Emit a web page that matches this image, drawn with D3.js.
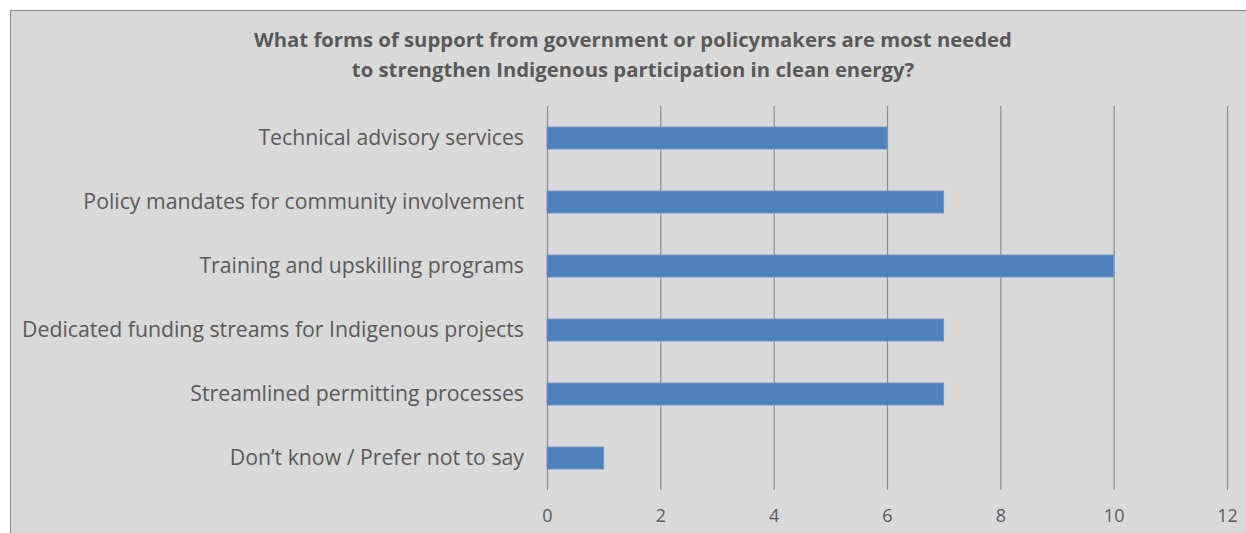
<!DOCTYPE html>
<meta charset="utf-8">
<head>
  <style>
    body { margin: 0; background: #ffffff; }
    text { font-family: "Open Sans", sans-serif; fill: #595959; }
    .title { font-weight: bold; }
  </style>
  <script src="https://cdn.jsdelivr.net/npm/d3@7"></script>
</head>
<body>
  <div id="viz"></div>
</body>
<script>
var categories = [
  "Technical advisory services",
  "Policy mandates for community involvement",
  "Training and upskilling programs",
  "Dedicated funding streams for Indigenous projects",
  "Streamlined permitting processes",
  "Don\u2019t know / Prefer not to say"
];
var values = [6, 7, 10, 7, 7, 1];
var xTicks = [0, 2, 4, 6, 8, 10, 12];
var titleLines = [
  "What forms of support from government or policymakers are most needed",
  "to strengthen Indigenous participation in clean energy?"
];

var W = 1246, H = 533;
var plotLeft = 547, plotRight = 1227, plotTop = 106, plotBottom = 490;

var svg = d3.select("#viz")
  .append("svg")
    .attr("width", W)
    .attr("height", H);

// chart area background with border
svg.append("rect")
  .attr("x", 10.5)
  .attr("y", 10.5)
  .attr("width", W)
  .attr("height", H)
  .attr("fill", "#d9d9d9")
  .attr("stroke", "#8c8c8c")
  .attr("stroke-width", 1);

var x = d3.scaleLinear()
  .domain([0, 12])
  .range([plotLeft, plotRight]);

var y = d3.scaleBand()
  .domain(categories)
  .range([plotTop, plotBottom])
  .paddingInner(0.656)
  .paddingOuter(0.328);

/* fit a font size so a text spans the given width (reference is Calibri) */
function fitSize(str, target, weight) {
  var t = svg.append("text")
    .style("font-size", "20px")
    .style("font-weight", weight || "normal")
    .text(str);
  var w = t.node().getComputedTextLength();
  t.remove();
  return 20 * target / w;
}
var labelSize = fitSize(categories[3], 502);
var titleSize = fitSize(titleLines[0], 758, "bold");
var tickSize = 18;

/* gridlines + tick labels */
var xAxis = svg.append("g")
  .attr("transform", "translate(0," + plotBottom + ")")
  .call(d3.axisBottom(x)
    .tickValues(xTicks)
    .tickSizeInner(-(plotBottom - plotTop))
    .tickSizeOuter(0)
    .tickPadding(19)
    .tickFormat(d3.format("d")));

xAxis.select(".domain").remove();
xAxis.selectAll(".tick line")
  .attr("stroke", "#8c8c8c")
  .attr("stroke-width", 1.2);
xAxis.selectAll(".tick text")
  .attr("fill", null)
  .attr("font-family", null)
  .attr("font-size", null)
  .style("font-size", tickSize + "px");

/* bars */
svg.selectAll(".bar")
  .data(values)
  .enter()
  .append("rect")
    .attr("class", "bar")
    .attr("x", x(0))
    .attr("y", function(d, i) { return y(categories[i]); })
    .attr("width", function(d) { return x(d) - x(0); })
    .attr("height", y.bandwidth())
    .attr("fill", "#4f81bd")
    .attr("stroke", "#6d97cb")
    .attr("stroke-width", 0.8);

/* category labels */
var yAxis = svg.append("g")
  .attr("transform", "translate(" + plotLeft + ",0)")
  .call(d3.axisLeft(y).tickSize(0).tickPadding(23));

yAxis.select(".domain").remove();
yAxis.selectAll(".tick text")
  .attr("fill", null)
  .attr("font-family", null)
  .attr("font-size", null)
  .style("font-size", labelSize + "px");

/* title */
svg.selectAll(".title")
  .data(titleLines)
  .enter()
  .append("text")
    .attr("class", "title")
    .attr("x", 633)
    .attr("y", function(d, i) { return 47 + i * 30; })
    .attr("text-anchor", "middle")
    .style("font-size", titleSize + "px")
    .text(function(d) { return d; });
</script>
